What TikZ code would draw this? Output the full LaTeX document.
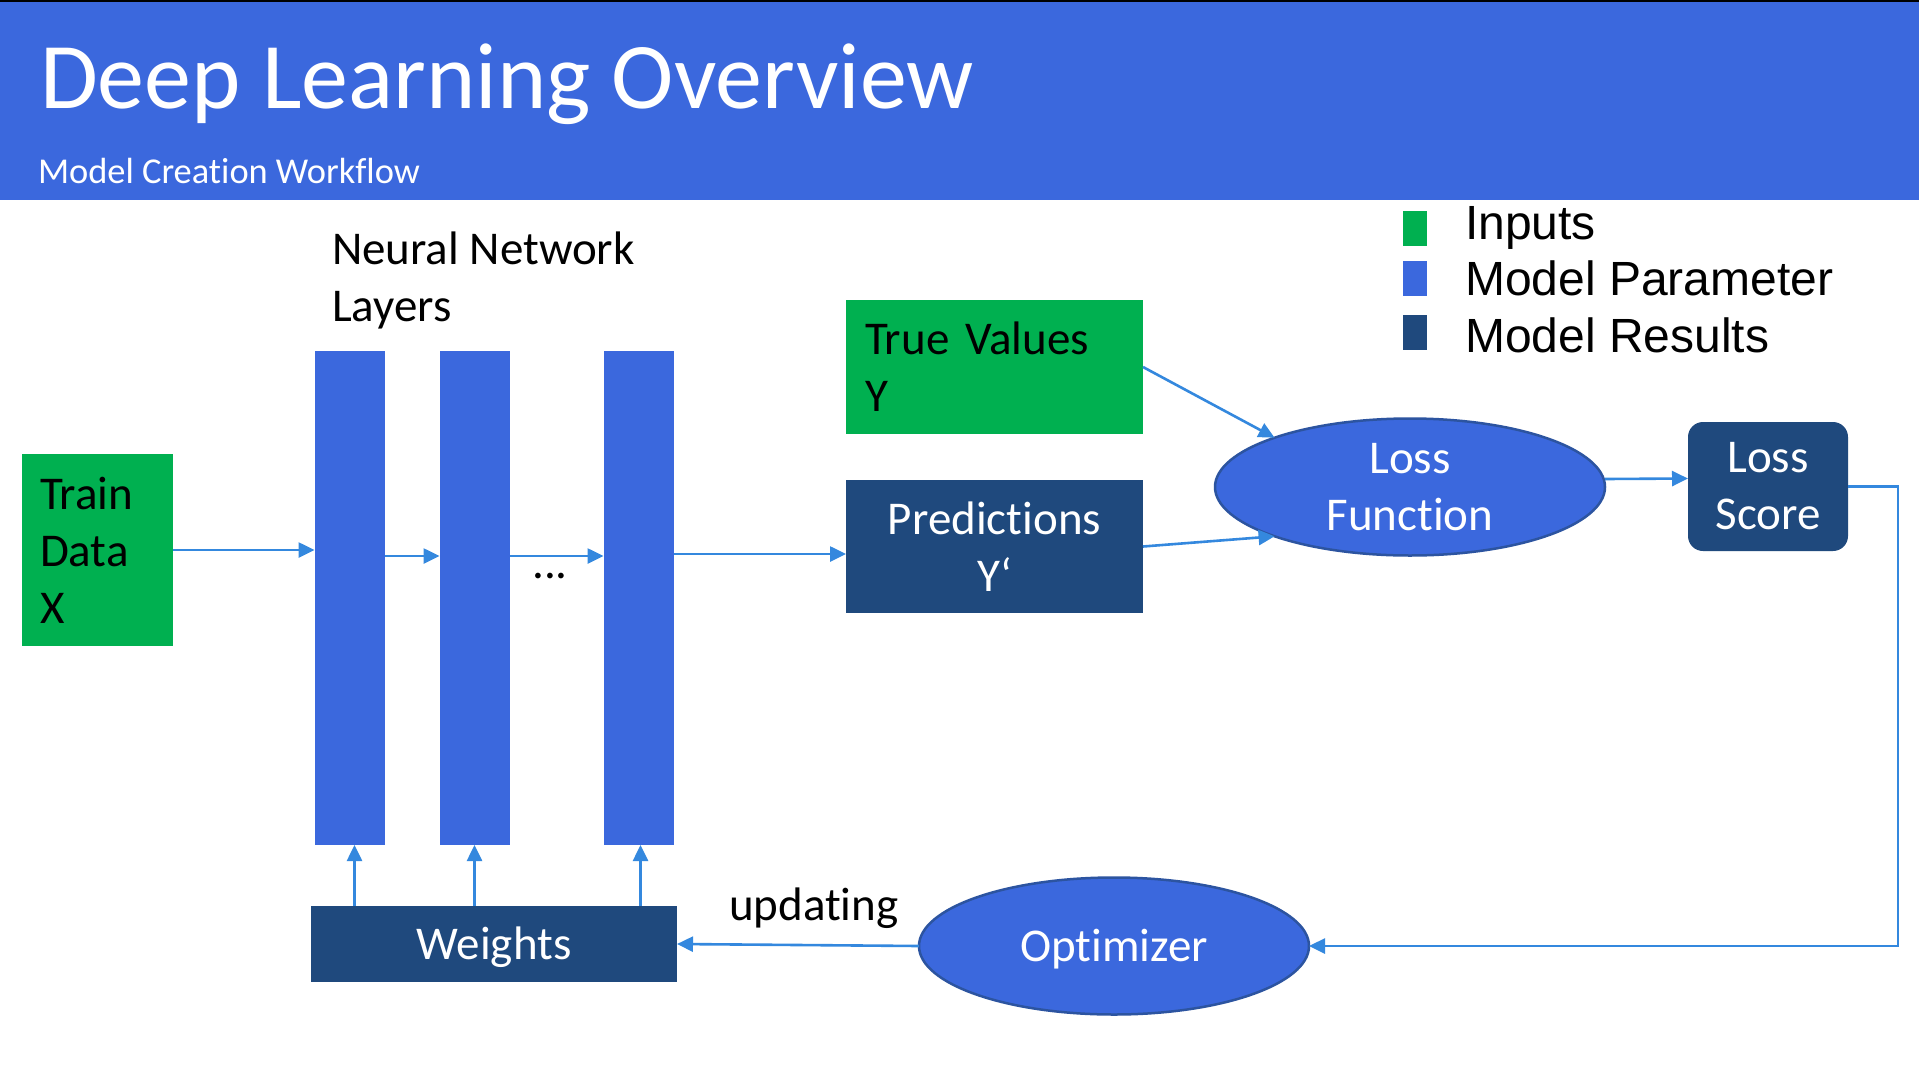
\documentclass[tikz,border=0pt]{standalone}
\usepackage{fontspec}
\setmainfont{Carlito}[Ligatures={NoCommon}]
\newfontfamily\arialfont{Liberation Sans}
\usetikzlibrary{shapes.geometric,arrows.meta}
\definecolor{barblue}{RGB}{59,104,221}
\definecolor{ingreen}{RGB}{0,176,80}
\definecolor{resblue}{RGB}{31,73,125}
\definecolor{linkblue}{RGB}{52,136,222}
\definecolor{rimblue}{RGB}{44,84,160}
\begin{document}
\begin{tikzpicture}[x=1pt,y=-1pt,
  every node/.style={inner sep=0pt, outer sep=0pt},
  lbl/.style={font=\fontsize{47}{57}\selectfont},
  inbox/.style={fill=ingreen, lbl, text=black, align=left},
  resbox/.style={fill=resblue, lbl, text=white, align=center},
  oneline/.style={text height=30pt, text depth=0pt},
  layer/.style={fill=barblue, minimum width=70pt, minimum height=494pt},
  oval/.style={ellipse, fill=barblue, draw=rimblue, line width=2.5pt,
    minimum width=390pt, minimum height=137pt, lbl, text=white, align=center},
  link/.style={draw=linkblue, line width=2.6pt, -{Triangle[length=16pt,width=15pt]}},
  key/.style={minimum width=24pt, minimum height=35pt},
  keytext/.style={anchor=base west, font=\arialfont\fontsize{48}{56}\selectfont}
]
\useasboundingbox (0,0) rectangle (1919,1079);
\fill[white] (0,0) rectangle (1919,1079);

% header band
\fill[barblue] (0,0) rectangle (1919,200);
\fill[black] (0,0) rectangle (1919,2);
\node[anchor=base west, text=white, font=\fontsize{94}{100}\selectfont] (title) at (40,108) {Deep Learning Overview};
\node[anchor=base west, text=white, font=\fontsize{36.4}{40}\selectfont] (subtitle) at (38,183) {Model Creation Workflow};

% legend
\node[key, fill=ingreen] (kin) at (1415,228.5) {};
\node[key, fill=barblue] (kpar) at (1415,278.5) {};
\node[key, fill=resblue] (kres) at (1415,332) {};
\node[keytext] (tin) at (1465,239) {Inputs};
\node[keytext] (tpar) at (1465,295) {Model Parameter};
\node[keytext] (tres) at (1465,352) {Model Results};

% network layers (base anchor sits on the last line)
\node[anchor=base west, lbl, align=left] (nnlabel) at (332,321) {Neural Network\\Layers};
\node[layer] (bar1) at (349.5,598) {};
\node[layer] (bar2) at (474.5,598) {};
\node[layer] (bar3) at (638.5,598) {};
\node[lbl, anchor=base] (dots) at (550,578) {...};

% inputs and results
\node[inbox, minimum width=151pt, minimum height=192pt, text width=115pt] (train) at (97.5,550) {Train\\Data\\X};
\node[inbox, minimum width=297pt, minimum height=134pt, text width=259pt] (tv) at (994.5,367) {True Values\\Y};
\node[resbox, minimum width=297pt, minimum height=133pt] (pred) at (994.5,546.5) {Predictions\\Y‘};
\node[oval] (lossfn) at (1410,487) {Loss\\Function};
\node[resbox, rounded corners=15pt, minimum width=160pt, minimum height=129pt] (score) at (1768,486.5) {Loss\\Score};
\node[oval, oneline] (opt) at (1114,946) {Optimizer};
\node[resbox, oneline, minimum width=366pt, minimum height=76pt] (weights) at (494,944) {Weights};
\node[lbl, anchor=base west] (upd) at (729,920) {updating};
\coordinate (loopc) at (1898,946);

% connectors
\draw[link] (train.east) -- (train.east -| bar1.west);
\draw[link] ([yshift=42pt]bar1.east) -- ([yshift=42pt]bar2.west);
\draw[link] ([yshift=42pt]bar2.east) -- ([yshift=42pt]bar3.west);
\draw[link] ([yshift=44pt]bar3.east) -- ([yshift=44pt]bar3.east -| pred.west);
\draw[link] (tv.east) -- (lossfn.160);
\draw[link] (pred.east) -- (lossfn.200);
\draw[link] ([yshift=8pt]lossfn.east) -- ([yshift=8pt]score.west);
\draw[link] (score.east) -| (loopc) -- (opt.east);
\draw[link] (opt.west) -- (weights.east);
\draw[link] ([xshift=5pt]bar1.south |- weights.north) -- ([xshift=5pt]bar1.south);
\draw[link] (bar2.south |- weights.north) -- (bar2.south);
\draw[link] ([xshift=2pt]bar3.south |- weights.north) -- ([xshift=2pt]bar3.south);
\end{tikzpicture}
\end{document}
